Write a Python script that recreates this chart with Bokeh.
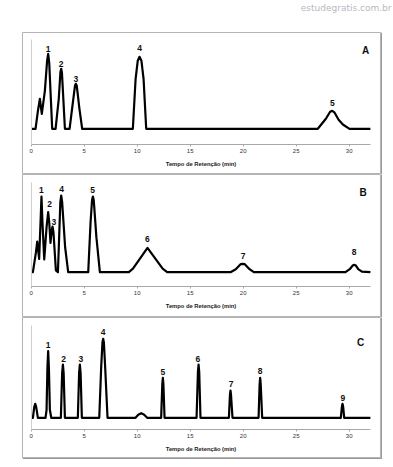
from bokeh.plotting import figure
from bokeh.layouts import column, row
from bokeh.models import Range1d, FixedTicker, Spacer
from bokeh.core.properties import value
from bokeh.embed import file_html
from bokeh.resources import INLINE

# ---------------- data (time in min, signal height) ----------------
x_ticks = [0, 5, 10, 15, 20, 25, 30]
axis_title = "Tempo de Retenção (min)"
watermark = "estudegratis.com.br"

# Panel A
a_time = [0, 0.41, 0.62, 0.82, 1.0, 1.29, 1.5, 1.6, 1.7, 1.98, 2.3, 2.6, 2.76, 2.83, 2.9, 3.18,
          3.62, 3.95, 4.13, 4.21, 4.3, 4.55, 4.81, 9.59, 9.85, 10.05, 10.22, 10.4, 10.6, 10.85,
          27.04, 27.8, 28.2, 28.4, 28.6, 29.0, 29.4, 30.03, 32]
a_signal = [0, 0, 17, 30, 15, 38, 68, 75, 66, 0, 0, 30, 57, 60, 56, 0,
            0, 28, 43, 45, 43, 20, 0, 0, 50, 68, 72, 68, 50, 0,
            0, 10, 17, 18, 16.5, 9, 4.3, 0, 0]
a_peak_time = [1.6, 2.83, 4.21, 10.22, 28.4]
a_peak_label_h = [80, 65, 50, 80.7, 26]
a_peak_names = ["1", "2", "3", "4", "5"]

# Panel B
b_time = [0, 0.16, 0.45, 0.57, 0.75, 0.88, 0.97, 1.06, 1.23, 1.45, 1.6, 1.7, 1.82, 1.95, 2.01, 2.1,
          2.33, 2.52, 2.62, 2.75, 2.83, 2.92, 3.2, 3.49, 5.38, 5.6, 5.74, 5.82, 5.9, 6.15, 6.48,
          9.21, 9.6, 10.97, 12.4, 12.83, 18.8, 19.3, 19.75, 19.94, 20.15, 20.6, 21.0,
          29.65, 30.05, 30.35, 30.47, 30.6, 30.85, 31.2, 32]
b_signal = [0, 0, 20, 30.7, 13.3, 50, 75.7, 50, 12.7, 45, 60, 50, 29.3, 43, 45.7, 40,
            1.7, 0, 30, 70, 76.7, 70, 25, 0, 0, 50, 72, 75.7, 72, 35, 0,
            0, 3.5, 24.3, 3.5, 0, 0, 3, 8, 8.3, 8, 3, 0,
            0, 3, 7, 7.3, 7, 3, 0.5, 0]
b_peak_time = [0.97, 1.73, 2.14, 2.86, 5.79, 10.97, 20.0, 30.47]
b_peak_label_h = [82.3, 68.3, 50.7, 83.3, 82.7, 33.3, 16.7, 20]
b_peak_names = ["1", "2", "3", "4", "5", "6", "7", "8"]

# Panel C
c_time = [0, 0.16, 0.29, 0.38, 0.47, 0.63, 1.35, 1.45, 1.53, 1.6, 1.67, 1.76, 1.89,
          2.8, 2.92, 2.99, 3.06, 3.18, 4.4, 4.52, 4.59, 4.66, 4.78,
          6.42, 6.6, 6.72, 6.79, 6.86, 6.98, 7.2, 9.84, 10.1, 10.38, 10.66, 10.94,
          12.26, 12.37, 12.42, 12.47, 12.58, 15.6, 15.73, 15.79, 15.85, 15.97,
          18.65, 18.75, 18.8, 18.85, 18.99, 21.45, 21.55, 21.6, 21.65, 21.79,
          29.21, 29.31, 29.37, 29.43, 29.53, 32]
c_signal = [0, 0, 11, 14, 11, 0, 0, 8, 50, 66.7, 50, 8, 0,
            0, 45, 53.3, 45, 0, 0, 45, 53.3, 45, 0,
            0, 50, 75, 79, 75, 50, 0, 0, 3, 4.7, 3, 0,
            0, 34, 40, 34, 0, 0, 46, 53.3, 46, 0,
            0, 23, 27.3, 23, 0, 0, 34, 40, 34, 0,
            0, 11, 14, 11, 0, 0]
c_peak_time = [1.6, 3.05, 4.69, 6.79, 12.42, 15.72, 18.87, 21.6, 29.4]
c_peak_label_h = [72.7, 58.7, 58.7, 86.3, 46, 58.7, 34, 47, 19.7]
c_peak_names = ["1", "2", "3", "4", "5", "6", "7", "8", "9"]

panel_letters = ["A", "B", "C"]
letter_pos = [(31.54, 78.3), (31.32, 80), (31.07, 75)]

FONT = value("Liberation Sans")
BOX = "#9a9a9a"


def make_panel(t, s, lt, lh, names, letter, lpos, height, bottom_border, yr, axis_y, ytop):
    p = figure(width=360, height=height, output_backend="svg", toolbar_location=None,
               x_range=Range1d(-0.821, 32.953), y_range=Range1d(*yr),
               min_border_left=0, min_border_top=0, min_border_right=2,
               min_border_bottom=bottom_border)
    p.border_fill_color = BOX
    p.background_fill_color = "white"
    p.outline_line_color = "#b4b4b4"
    p.outline_line_width = 1
    p.grid.visible = False

    xa = p.xaxis[0]
    xa.fixed_location = axis_y
    xa.bounds = (0, 32)
    xa.ticker = FixedTicker(ticks=x_ticks)
    xa.axis_line_color = "#a8a8a8"
    xa.axis_line_width = 1
    xa.major_tick_line_color = "#a8a8a8"
    xa.major_tick_out = 2
    xa.major_tick_in = 0
    xa.minor_tick_line_color = None
    xa.major_label_text_font = "Liberation Sans"
    xa.major_label_text_font_size = "6px"
    xa.major_label_text_color = "#333333"
    xa.major_label_standoff = 2
    xa.axis_label = axis_title
    xa.axis_label_text_font = "Liberation Sans"
    xa.axis_label_text_font_size = "5.8px"
    xa.axis_label_text_font_style = "bold"
    xa.axis_label_text_color = "#222222"
    xa.axis_label_standoff = 5

    ya = p.yaxis[0]
    ya.fixed_location = 0
    ya.bounds = (axis_y, ytop)
    ya.ticker = FixedTicker(ticks=[])
    ya.major_label_text_font_size = "0px"
    ya.major_tick_line_color = None
    ya.minor_tick_line_color = None
    ya.axis_line_color = "#cfcfcf"

    p.line(t, s, line_color="black", line_width=2.2, line_join="round")
    p.text(x=lt, y=lh, text=names, text_font=FONT, text_font_style="bold",
           text_font_size="8.5px", text_align="center", text_baseline="middle",
           text_color="#111111")
    p.text(x=[lpos[0]], y=[lpos[1]], text=[letter], text_font=FONT, text_font_style="bold",
           text_font_size="10px", text_align="center", text_baseline="middle",
           text_color="#111111")
    return p


pA = make_panel(a_time, a_signal, a_peak_time, a_peak_label_h, a_peak_names,
                panel_letters[0], letter_pos[0], 142, 0, (-45.7, 96.3), -15.7, 89.3)
pB = make_panel(b_time, b_signal, b_peak_time, b_peak_label_h, b_peak_names,
                panel_letters[1], letter_pos[1], 143, 1, (-44.3, 97.7), -14.3, 90)
pC = make_panel(c_time, c_signal, c_peak_time, c_peak_label_h, c_peak_names,
                panel_letters[2], letter_pos[2], 142, 2, (-39.7, 100.3), -12, 92.3)

p0 = figure(width=392, height=32, output_backend="svg", toolbar_location=None,
            x_range=Range1d(0, 392), y_range=Range1d(0, 32), min_border=0)
p0.outline_line_color = None
p0.axis.visible = False
p0.grid.visible = False
p0.text(x=[391], y=[30], text=[watermark], text_font=value("DejaVu Sans"),
        text_font_size="9px", text_align="right", text_baseline="top",
        text_color="#b8b8c0")

layout = column(p0, row(Spacer(width=22, height=10), column(pA, pB, pC, spacing=0), spacing=0),
                spacing=0)

open("out.html", "w").write(file_html(layout, INLINE))
